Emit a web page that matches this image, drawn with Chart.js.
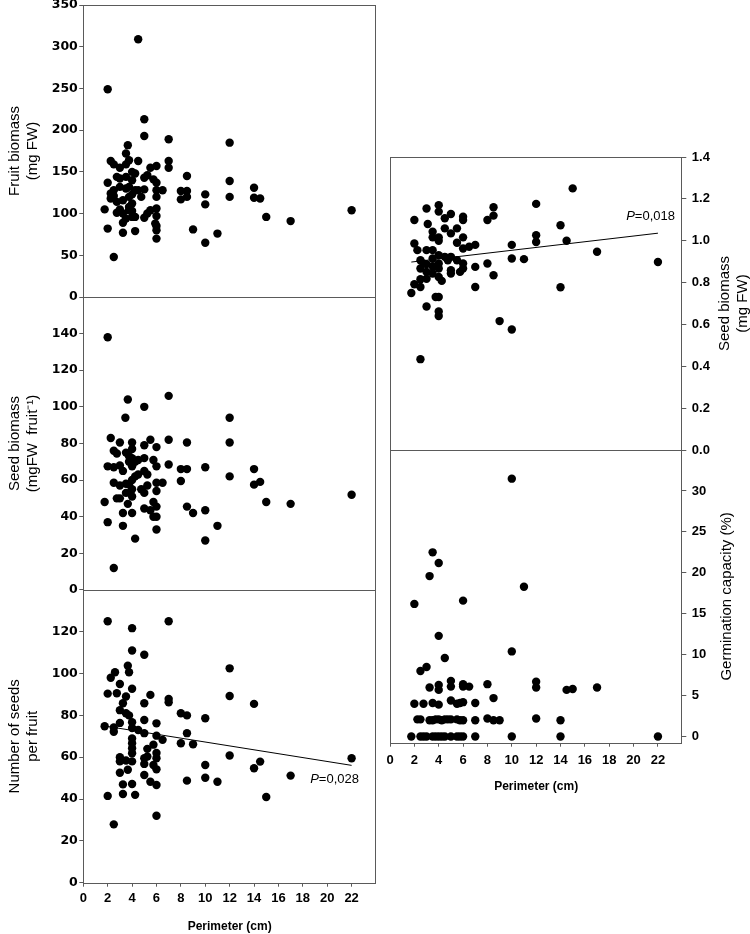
<!DOCTYPE html>
<html>
<head>
<meta charset="utf-8">
<script src="https://cdn.jsdelivr.net/npm/chart.js@4.4.1/dist/chart.umd.min.js"></script>
<style>
html,body{margin:0;padding:0;background:#fff;}
#wrap{position:relative;width:750px;height:934px;overflow:hidden;}
#wrap canvas{position:absolute;left:0;top:0;}
</style>
</head>
<body>
<div id="wrap">
<canvas id="c1" width="750" height="934"></canvas>
<canvas id="c2" width="750" height="934"></canvas>
<canvas id="c3" width="750" height="934"></canvas>
<canvas id="c4" width="750" height="934"></canvas>
<canvas id="c5" width="750" height="934"></canvas>
</div>
<script>
// ---------- tick labels ----------
const perimeterTicks = [0,2,4,6,8,10,12,14,16,18,20,22];
const fruitTicks = [0,50,100,150,200,250,300,350];
const seedMassTicks = [0,20,40,60,80,100,120,140];
const seedNumTicks = [0,20,40,60,80,100,120];
const seedBioTicks = [0,0.2,0.4,0.6,0.8,1.0,1.2,1.4];
const germTicks = [0,5,10,15,20,25,30];

// ---------- Fruit biomass (mg FW) ----------
const fruitPerimeter = [4.5,2,5,5,7,12,3.65,3.5,2.25,4.5,7,7,8.5,12,14,6.5,8,8.5,8,8.5,10,10,12,14,14.5,15,17,22,9,10,11,
  2,1.75,2,2.5,3.25,4.25,3.25,2.75,3,3.5, 4,4,5,6,6,6,6,6,5.5,5.25, 6,6,6,5.5,5,5.25,4.5,5,4.75,2.5,
  2.25,2.25,2.75,3,2.75,2.5,3,3.5,3.75,3.5, 4,4.25,5.75,2.5,3,3.5,3.75,4.25,3.75,3.25, 3.75,3.25,4,3.75,4,5.9,4.25,4,6];
const fruitBiomass = [309,249,213,193,189,185,182,172,163,163,163,155,145,139,131,128,127,127,117,120,123,111,120,119,118,96,91,104,81,65,76,
  137,105,82,48,77,79,89,101,105,94, 96,103,95,70,80,85,97,106,104,100, 120,137,157,155,143,146,128,129,120,121,
  124,118,114,142,144,159,155,159,164,144, 140,148,141,128,132,130,132,128,120,116, 104,100,112,108,123,88,96,150,128];

// ---------- Seed biomass (mgFW fruit-1) ----------
const seedPerimeter = [2,3.65,5,7,3.45,12,2.25,3,4,5, 5.5,6,7,8.5,12,2.5,2.75,3.5,3.75,4, 4,4.5,5,5.75,6,2,2.5,3,3.25,4,
  5,5.25,4.5,4,2.5,3,3.75,4,4.75,5, 6,6.5,6,7,8,8.5,8,10,12,14, 14,14.5,15,17,22,8.5,9,10,11,10,
  1.75,2,2.5,3,3.25,3.25,3.65,4,4.25,4, 5,5.5,5.75,6,5.75,6,6,3.5,4.25,3.75, 4.25,2.75,3.5,5.25];
const seedBiomassFruit = [138,104,100,106,94,94,83,80.5,80.5,79, 82,78,82,80.5,80.5,76,74.5,75,73,77, 72,71,72,71,67.5,67.5,67,68,65,67.5,
  65,63,63,60,58.5,57,57.5,55,55,53, 58.5,58.5,54,68.5,66,66,59.5,67,62,66, 57.5,59,48,47,52,45.5,42,43.5,35,27,
  48,37,12,50,42,35,47,42,28,51, 44.5,43.5,48,45.5,40,40,33,58,62,70, 70,50,53,57];

// ---------- Number of seeds per fruit ----------
const nSeedPerimeter = [2,4,7,4,5,3.65,3.75,2.6,2.25,3, 2,2.75,3.5,4,5.5,5,7,7,3.25,3, 3.5,3.75,3,4,5,6,1.75,2.5,2.5,4,
  4.5,5,4,6,6.5,4,4,4,5.25,5.75, 6,5.25,5,6,3,3,3.5,4,3.65,3, 5,5.75,6,5,5.5,6,3.25,4,2,3.25,
  4.25,2.5,6,8,8.5,8.5,8,9,10,8.5, 10,10,11,12,12,12,14,14,14.5,15, 17,22];
const nSeeds = [125,121.7,125,111,109,103.7,100.6,100.6,98,95, 90.4,90.6,89,92.7,89.8,85.8,87.9,86.3,85.8,82.5, 81,80,76.4,76.7,77.8,76.2,74.8,74.2,72.2,74,
  73,71.5,69,70.3,68.3,66.7,64.3,61.9,64,66, 62,60.3,59.5,59.5,60,58,58.4,58,54,52.6, 56.8,56.3,54.2,51.5,48.3,46.7,47,47.2,41.5,42.4,
  42,27.9,32,81,80,71.5,66.7,66.2,78.6,48.8, 56.3,50.2,48.3,102.5,89.3,60.8,85.5,54.7,57.9,41, 51.2,59.5];
const nSeedFitX = [2, 22];
const nSeedFitY = [74.7, 56.1];
const nSeedP = '0,028';

// ---------- Seed biomass (mg FW) ----------
const seedBioPerimeter = [15,12,14,12,12,14.5,17,22,14,10, 10,11,10,9,8,8.5,8.5,8.5,8,7, 7,7,2.5,3,4,3.75,4,4,1.75,2,
  2.5,2.5,3,2,2,3,3.1,4,4,3.5, 3.5,4,4,4.5,5,4.5,5.5,5,6,6, 5.5,6,6,6.5,2.25,2.5,3,3.5,3,3.5,
  4,4,4.5,5,5.5,4.75,5,5,6,6, 5.75,3,3.5,4,4.25,2.75,2.5,4,3.5];
const seedBio = [1.25,1.176,1.074,1.026,0.994,1.0,0.947,0.898,0.778,0.98, 0.915,0.912,0.576,0.616,0.891,0.835,1.12,1.16,1.099,0.98,
  0.875,0.779,0.434,0.686,0.731,0.731,0.662,0.64,0.75,0.792, 0.779,0.816,0.818,0.987,1.099,1.154,1.08,1.17,1.139,1.043,
  1.016,1.016,1.0,1.107,1.128,1.059,1.059,1.035,1.115,1.099, 0.99,1.016,0.963,0.971,0.955,0.907,0.955,0.955,0.888,0.915,
  0.931,0.891,0.923,0.923,0.907,0.907,0.859,0.843,0.891,0.867, 0.851,0.851,0.843,0.827,0.808,0.891,0.867,0.867,0.878];
const seedBioFitX = [1.75, 22];
const seedBioFitY = [0.898, 1.036];
const seedBioP = '0,018';

// ---------- Germination capacity (%) ----------
const germPerimeter = [10,3.5,4,3.25,11,6,2,4,10,4.5, 3,2.5,
  3.25,4,4,5,5,6,6,6.5,8,12, 12,14.5,15,17,
  2,2.75,3.5,4,5,5.5,6,5.75,7,8.5,
  2.25,2.5,3.25,3.5,3.75,4,4.25,4.5,4.75,5, 5.5,5.75,6,7,8,8.5,9,12,14,
  1.75,2.5,2.75,3,3.5,3.75,4,4.25,4.5,5, 5.5,5.75,6,7,10,14,22];
const germination = [31.5,22.5,21.2,19.6,18.3,16.6,16.2,12.3,10.4,9.6, 8.5,8.0,
  6.0,6.3,5.7,6.8,6.1,6.4,6.1,6.1,6.4,6.7, 6.0,5.7,5.8,6.0,
  4.0,4.0,4.1,3.9,4.4,4.0,4.2,4.1,4.1,4.7,
  2.1,2.1,2.0,2.0,2.1,2.1,2.0,2.1,2.1,2.1, 2.1,2.0,2.0,2.0,2.2,2.0,2.0,2.2,2.0,
  0,0,0,0,0,0,0,0,0,0, 0,0,0,0,0,0,0];

// ---------- styling / helpers ----------
const FRAME = '#5a5a5a';
const SANS = '"Liberation Sans", Arial, sans-serif';
const WIDE = '"DejaVu Sans", sans-serif';

function pts(xs, ys) { return xs.map((x, i) => ({x: x, y: ys[i]})); }
function dots(xs, ys) {
  return {data: pts(xs, ys), backgroundColor: '#000', borderWidth: 0, pointRadius: 4.2, pointHoverRadius: 4.2, order: 1};
}
function fitLine(xs, ys) {
  return {type: 'line', data: pts(xs, ys), borderColor: '#000', borderWidth: 1, pointRadius: 0, fill: false, tension: 0, order: 2};
}

const framePlugin = {
  id: 'frame',
  afterDatasetsDraw(chart) {
    const a = chart.chartArea, ctx = chart.ctx;
    ctx.save();
    ctx.strokeStyle = FRAME; ctx.lineWidth = 1;
    const l = Math.round(a.left), t = Math.round(a.top), r = Math.round(a.right), b = Math.round(a.bottom);
    ctx.strokeRect(l + 0.5, t + 0.5, r - l - 1, b - t);
    ctx.restore();
  }
};

const pTextPlugin = {
  id: 'pText',
  afterDatasetsDraw(chart, args, opts) {
    if (!opts || opts.text === undefined) return;
    const ctx = chart.ctx;
    const px = chart.scales.x.getPixelForValue(opts.x);
    const py = chart.scales.y.getPixelForValue(opts.y);
    ctx.save();
    ctx.fillStyle = '#000'; ctx.textBaseline = 'middle';
    const fI = 'italic 13px ' + SANS, fR = '13px ' + SANS;
    ctx.font = fI; const wP = ctx.measureText('P').width;
    ctx.font = fR; const wR = ctx.measureText('=' + opts.text).width;
    const x0 = opts.align === 'right' ? px - wP - wR : px;
    ctx.font = fI; ctx.textAlign = 'left'; ctx.fillText('P', x0, py);
    ctx.font = fR; ctx.fillText('=' + opts.text, x0 + wP, py);
    ctx.restore();
  }
};

const sideTitlePlugin = {
  id: 'sideTitle',
  afterDraw(chart, args, opts) {
    if (!opts || !opts.lines) return;
    const s = chart.scales.y, ctx = chart.ctx;
    const cy = (s.top + s.bottom) / 2;
    ctx.save();
    ctx.fillStyle = '#000'; ctx.font = '15px ' + SANS;
    ctx.textAlign = 'center'; ctx.textBaseline = 'middle';
    opts.lines.forEach((line, i) => {
      ctx.save();
      ctx.translate(s.left + opts.offsets[i], cy);
      ctx.rotate(-Math.PI / 2);
      ctx.fillText(line, 0, 0);
      ctx.restore();
    });
    ctx.restore();
  }
};

function yLeft(ticks, min, max, titleLines) {
  return {
    type: 'linear', position: 'left', min: min, max: max,
    afterBuildTicks: s => { s.ticks = ticks.map(v => ({value: v})); },
    afterFit: s => { s.width = 83.3; s.paddingTop = 0; s.paddingBottom = 0; },
    grid: {drawOnChartArea: false, drawTicks: true, tickLength: 4, tickColor: FRAME, color: FRAME},
    border: {display: false},
    ticks: {color: '#000', font: {family: WIDE, size: 12.5, weight: 'bold'}, padding: 1.5, autoSkip: false, callback: v => String(v)},
    title: {display: true, text: titleLines, color: '#000', font: {family: SANS, size: 15, lineHeight: 1.17}, padding: {top: 6.2, bottom: 0}}
  };
}
function yRight(ticks, min, max, fmt) {
  return {
    type: 'linear', position: 'right', min: min, max: max,
    afterBuildTicks: s => { s.ticks = ticks.map(v => ({value: v})); },
    afterFit: s => { s.width = 67.7; s.paddingTop = 0; s.paddingBottom = 0; },
    grid: {drawOnChartArea: false, drawTicks: true, tickLength: 4, tickColor: FRAME, color: FRAME},
    border: {display: false},
    ticks: {color: '#000', font: {family: SANS, size: 13, weight: 'bold'}, padding: 5.5, autoSkip: false, callback: fmt},
    title: {display: false}
  };
}
function xHidden() { return {type: 'linear', min: 0, max: 24, display: false}; }
function xShown(height, pad) {
  return {
    type: 'linear', position: 'bottom', min: 0, max: 24,
    afterBuildTicks: s => { s.ticks = perimeterTicks.map(v => ({value: v})); },
    afterFit: s => { s.height = height; s.paddingLeft = 0; s.paddingRight = 0; },
    grid: {drawOnChartArea: false, drawTicks: true, tickLength: 4, tickColor: FRAME, color: FRAME},
    border: {display: false},
    ticks: {color: '#000', font: {family: SANS, size: 13, weight: 'bold'}, padding: pad, maxRotation: 0, autoSkip: false},
    title: {display: true, text: 'Perimeter (cm)', color: '#000', font: {family: SANS, size: 12, weight: 'bold', lineHeight: 1.2}, padding: {top: 0, bottom: 0}}
  };
}

function makeChart(id, datasets, scales, padding, extra) {
  const plugins = Object.assign({legend: {display: false}, tooltip: {enabled: false}}, extra || {});
  return new Chart(document.getElementById(id), {
    type: 'scatter',
    data: {datasets: datasets},
    options: {
      responsive: false, animation: false, devicePixelRatio: 1,
      layout: {padding: padding},
      plugins: plugins,
      scales: scales
    },
    plugins: [framePlugin, pTextPlugin, sideTitlePlugin]
  });
}

// Panel 1: Fruit biomass
makeChart('c1', [dots(fruitPerimeter, fruitBiomass)],
  {x: xHidden(), y: yLeft(fruitTicks, 0, 350, ['Fruit biomass', '(mg FW)'])},
  {left: 0, right: 374, top: 5, bottom: 637});

// Panel 2: Seed biomass per fruit
makeChart('c2', [dots(seedPerimeter, seedBiomassFruit)],
  {x: xHidden(), y: yLeft(seedMassTicks, 0, 160, ['Seed biomass', '(mgFW  fruit\u207B\u00B9)'])},
  {left: 0, right: 374, top: 297, bottom: 344.1});

// Panel 3: Number of seeds per fruit
makeChart('c3', [dots(nSeedPerimeter, nSeeds), fitLine(nSeedFitX, nSeedFitY)],
  {x: xShown(51.3, 3.5), y: yLeft(seedNumTicks, 0, 140, ['Number of seeds', 'per fruit'])},
  {left: 0, right: 374, top: 589.9, bottom: 0},
  {pText: {text: nSeedP, x: 18.6, y: 49.2, align: 'left'}});

// Panel 4: Seed biomass (mg FW)
makeChart('c4', [dots(seedBioPerimeter, seedBio), fitLine(seedBioFitX, seedBioFitY)],
  {x: xHidden(), y: yRight(seedBioTicks, 0, 1.4, v => v.toFixed(1))},
  {left: 390, right: 0, top: 157, bottom: 484},
  {pText: {text: seedBioP, x: 23.4, y: 1.115, align: 'right'},
   sideTitle: {lines: ['Seed biomass', '(mg FW)'], offsets: [42.7, 60.7]}});

// Panel 5: Germination capacity
makeChart('c5', [dots(germPerimeter, germination)],
  {x: xShown(51.2, 5.5), y: yRight(germTicks, -0.75, 35, v => String(v))},
  {left: 390, right: 0, top: 450, bottom: 140.1},
  {sideTitle: {lines: ['Germination capacity (%)'], offsets: [44.7]}});
</script>
</body>
</html>
